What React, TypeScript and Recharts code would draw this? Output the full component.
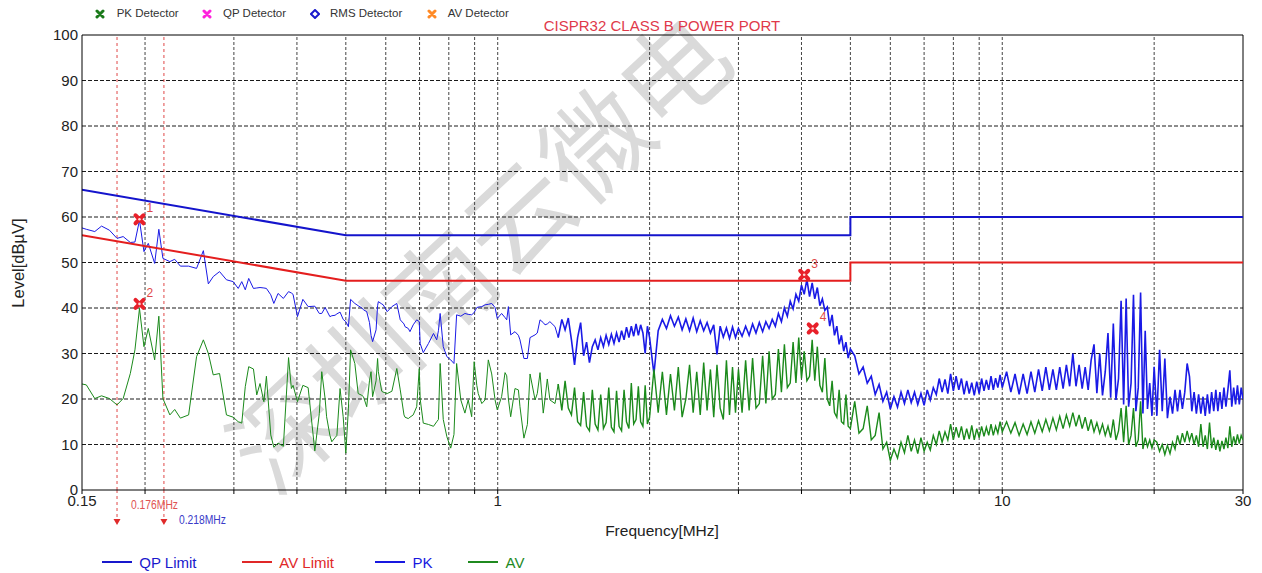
import {
  ComposedChart, Line, XAxis, YAxis, ReferenceLine, ReferenceDot,
} from "recharts";

const FONT = "Arial, 'Liberation Sans', Helvetica, sans-serif";
const CJK = "'Noto Sans CJK SC', 'Noto Sans CJK TC', sans-serif";

const W = 1262;
const H = 573;

// scan frequencies [MHz]
const FREQ = [
  0.150, 0.153, 0.159, 0.164, 0.170, 0.176, 0.181, 0.187, 0.191, 0.195,
  0.199, 0.203, 0.209, 0.213, 0.217, 0.224, 0.229, 0.235, 0.244, 0.253,
  0.261, 0.267, 0.273, 0.281, 0.290, 0.299, 0.306, 0.311, 0.316, 0.321,
  0.328, 0.333, 0.338, 0.344, 0.348, 0.355, 0.360, 0.367, 0.376, 0.385,
  0.390, 0.393, 0.401, 0.411, 0.421, 0.434, 0.443, 0.448, 0.455, 0.458,
  0.465, 0.469, 0.476, 0.480, 0.487, 0.494, 0.500, 0.506, 0.511, 0.521,
  0.529, 0.538, 0.542, 0.550, 0.557, 0.561, 0.565, 0.574, 0.578, 0.580,
  0.589, 0.593, 0.604, 0.617, 0.631, 0.641, 0.652, 0.655, 0.665, 0.670,
  0.680, 0.691, 0.699, 0.702, 0.712, 0.729, 0.746, 0.757, 0.763, 0.769,
  0.780, 0.793, 0.807, 0.819, 0.829, 0.845, 0.861, 0.874, 0.888, 0.898,
  0.909, 0.915, 0.930, 0.944, 0.958, 0.973, 0.988, 0.998, 1.018, 1.034,
  1.042, 1.050, 1.061, 1.082, 1.099, 1.107, 1.127, 1.145, 1.159, 1.186,
  1.198, 1.213, 1.231, 1.241, 1.254, 1.269, 1.299, 1.318,
  // 1.34 - 2.00
  1.34, 1.36, 1.38, 1.40, 1.42, 1.44, 1.46, 1.48, 1.50, 1.52,
  1.54, 1.56, 1.58, 1.60, 1.62, 1.64, 1.66, 1.68, 1.70, 1.72,
  1.74, 1.76, 1.78, 1.80, 1.82, 1.84, 1.86, 1.88, 1.90, 1.92,
  1.94, 1.96, 1.98, 2.00,
  // 2.04 - 3.00
  2.04, 2.08, 2.12, 2.16, 2.20, 2.24, 2.28, 2.32, 2.36, 2.40,
  2.44, 2.48, 2.52, 2.56, 2.60, 2.64, 2.68, 2.72, 2.76, 2.80,
  2.84, 2.88, 2.92, 2.96, 3.00,
  // 3.05 - 5.00
  3.05, 3.10, 3.15, 3.20, 3.25, 3.30, 3.35, 3.40, 3.45, 3.50,
  3.55, 3.60, 3.65, 3.70, 3.75, 3.80, 3.85, 3.90, 3.95, 4.00,
  4.05, 4.10, 4.15, 4.20, 4.25, 4.30, 4.35, 4.40, 4.45, 4.50,
  4.55, 4.60, 4.65, 4.70, 4.75, 4.80, 4.85, 4.90, 4.95, 5.00,
  // 5.1 - 10
  5.1, 5.2, 5.3, 5.4, 5.5, 5.6, 5.7, 5.8, 5.9, 6.0,
  6.1, 6.2, 6.3, 6.4, 6.5, 6.6, 6.7, 6.8, 6.9, 7.0,
  7.1, 7.2, 7.3, 7.4, 7.5, 7.6, 7.7, 7.8, 7.9, 8.0,
  8.1, 8.2, 8.3, 8.4, 8.5, 8.6, 8.7, 8.8, 8.9, 9.0,
  9.1, 9.2, 9.3, 9.4, 9.5, 9.6, 9.7, 9.8, 9.9, 10.0,
  // 10.2 - 20
  10.2, 10.4, 10.6, 10.8, 11.0, 11.2, 11.4, 11.6, 11.8, 12.0,
  12.2, 12.4, 12.6, 12.8, 13.0, 13.2, 13.4, 13.6, 13.8, 14.0,
  14.2, 14.4, 14.6, 14.8, 15.0, 15.2, 15.4, 15.6, 15.8, 16.0,
  16.2, 16.4, 16.6, 16.8, 17.0, 17.2, 17.4, 17.6, 17.8, 18.0,
  18.2, 18.4, 18.6, 18.8, 19.0, 19.2, 19.4, 19.6, 19.8, 20.0,
  // 20.25 - 30
  20.25, 20.5, 20.75, 21.0, 21.25, 21.5, 21.75, 22.0, 22.25, 22.5,
  22.75, 23.0, 23.25, 23.5, 23.75, 24.0, 24.25, 24.5, 24.75, 25.0,
  25.25, 25.5, 25.75, 26.0, 26.25, 26.5, 26.75, 27.0, 27.25, 27.5,
  27.75, 28.0, 28.25, 28.5, 28.75, 29.0, 29.25, 29.5, 29.75, 30.0,
];

// peak detector trace [dBµV]
const PK = [
  57.6, 57.3, 56.8, 58.0, 57.1, 55.3, 55.7, 54.4, 54.5, 59.3,
  52.4, 54.2, 49.8, 57.3, 50.9, 50.2, 50.7, 49.2, 49.2, 48.7,
  52.6, 45.3, 46.9, 48.0, 46.2, 45.8, 44.3, 45.8, 44.0, 46.5,
  44.3, 44.4, 44.5, 44.4, 44.3, 42.9, 41.0, 43.2, 42.1, 43.6,
  43.3, 43.0, 38.1, 41.9, 40.3, 40.4, 38.8, 38.8, 40.1, 39.5,
  38.1, 38.3, 38.4, 38.7, 39.1, 37.5, 37.0, 35.9, 41.9, 41.0,
  40.5, 40.0, 39.6, 39.2, 36.8, 34.0, 32.6, 35.2, 40.5, 41.4,
  40.9, 40.7, 39.2, 40.3, 41.0, 37.4, 36.5, 35.9, 35.5, 34.8,
  36.3, 37.4, 37.0, 32.2, 30.2, 32.2, 34.4, 33.0, 35.0, 38.8,
  31.5, 29.3, 28.6, 27.8, 38.5, 38.2, 38.8, 38.6, 38.5, 39.0,
  40.1, 40.2, 40.3, 40.7, 40.8, 41.0, 40.1, 37.7, 38.8, 37.9,
  37.4, 40.3, 34.1, 34.8, 34.0, 33.0, 28.9, 28.9, 33.5, 34.1,
  34.5, 37.4, 36.8, 36.3, 36.5, 37.0, 35.9, 33.5,
  37.5, 35.2, 37.8, 33.0, 27.5, 33.5, 36.8, 29.5, 32.5, 28.0,
  31.5, 33.0, 30.8, 33.5, 31.5, 34.0, 32.0, 34.2, 32.2, 34.5,
  32.5, 35.0, 33.0, 35.8, 33.5, 36.0, 33.8, 36.5, 34.0, 36.3,
  34.5, 30.0, 36.0, 33.5,
  25.5, 35.0, 37.5, 35.5, 38.3, 36.0, 38.0, 35.2, 37.6, 35.0,
  37.8, 34.8, 37.2, 35.0, 36.8, 34.5, 36.3, 29.8, 36.0, 33.6,
  35.6, 33.3, 35.8, 33.5, 35.5,
  33.8, 36.0, 34.0, 36.5, 34.5, 36.8, 34.8, 37.0, 35.5, 37.5,
  36.0, 38.8, 37.0, 40.0, 38.2, 41.5, 39.8, 43.0, 41.5, 45.0,
  43.0, 46.3, 42.5, 45.5, 42.0, 44.5, 40.5, 42.0, 39.5, 40.2,
  36.0, 38.5, 34.0, 36.0, 32.0, 34.0, 30.5, 32.5, 29.0, 31.0,
  29.5, 25.5, 27.0, 23.5, 25.0, 21.0, 23.2, 19.5, 21.5, 17.8,
  20.5, 18.2, 21.5, 19.0, 22.0, 19.2, 21.5, 18.8, 21.2, 18.6,
  22.0, 19.8, 22.5, 21.0, 24.5, 21.5, 24.3, 21.2, 25.5, 21.8,
  25.0, 22.0, 24.5, 21.0, 24.0, 21.2, 23.6, 20.8, 23.8, 21.2,
  24.5, 21.8, 24.2, 22.0, 25.0, 22.0, 24.6, 22.5, 25.3, 22.5,
  26.0, 21.5, 25.5, 21.0, 25.5, 21.2, 26.0, 21.5, 26.5, 21.8,
  27.0, 22.0, 26.5, 22.0, 27.0, 22.3, 27.5, 22.8, 30.0, 22.8,
  27.5, 22.3, 27.0, 22.0, 28.5, 32.0, 21.3, 30.0, 20.8, 26.0,
  34.5, 20.3, 36.6, 19.8, 24.5, 41.6, 18.8, 42.1, 18.3, 23.5,
  42.9, 17.3, 22.5, 43.4, 16.8, 35.0, 17.8, 23.5, 16.3, 27.1,
  16.3, 30.8, 17.3, 28.9, 15.8, 20.5, 16.8, 22.0, 17.3, 22.0,
  17.8, 21.5, 27.8, 24.9, 17.3, 21.5, 16.8, 21.0, 16.8, 20.5,
  16.3, 21.0, 16.8, 21.5, 17.3, 22.0, 17.3, 21.5, 17.8, 22.5,
  18.3, 22.0, 26.3, 18.3, 22.5, 18.8, 23.0, 18.8, 22.5, 20.0,
];

// average detector trace [dBµV]
const AV = [
  23.3, 23.1, 20.1, 20.7, 20.1, 18.7, 20.1, 25.6, 30.8, 39.9,
  31.5, 35.5, 28.6, 38.2, 20.1, 16.5, 17.7, 15.8, 16.5, 29.3,
  33.0, 30.0, 25.3, 25.6, 16.5, 16.0, 15.0, 14.7, 22.7, 27.1,
  26.6, 20.9, 23.4, 19.4, 25.0, 12.1, 9.4, 10.3, 9.6, 29.1,
  22.3, 23.0, 19.4, 23.0, 22.5, 8.6, 16.8, 26.0, 20.0, 16.1,
  12.0, 10.6, 11.5, 12.0, 22.3, 16.1, 8.1, 18.0, 30.8, 27.8,
  21.2, 20.8, 20.5, 18.3, 24.0, 26.0, 20.5, 24.0, 28.9, 26.0,
  21.7, 21.5, 21.2, 21.7, 26.7, 22.0, 16.5, 16.0, 15.7, 16.0,
  16.5, 18.3, 26.7, 20.0, 14.7, 14.4, 14.0, 15.0, 15.5, 27.8,
  15.5, 11.7, 9.2, 12.2, 27.8, 19.8, 16.9, 19.8, 16.1, 28.2,
  23.0, 21.2, 19.0, 19.8, 28.6, 25.5, 19.8, 17.6, 20.5, 25.8,
  25.1, 20.0, 16.1, 22.3, 22.0, 18.3, 11.4, 14.4, 25.5, 19.8,
  21.2, 25.8, 16.9, 20.0, 24.4, 19.8, 19.0, 23.3,
  17.5, 24.0, 18.0, 16.5, 22.5, 15.0, 14.2, 21.5, 14.0, 13.0,
  22.0, 14.5, 13.2, 21.0, 13.5, 14.8, 22.5, 13.8, 12.8, 21.8,
  14.0, 13.0, 22.0, 15.0, 13.5, 23.5, 14.5, 15.5, 22.8, 15.0,
  14.0, 23.0, 14.5, 16.0,
  26.5, 17.0, 26.0, 16.5, 25.5, 17.5, 27.0, 16.0, 20.0, 27.5,
  17.0, 26.0, 16.5, 28.0, 17.5, 26.5, 16.0, 27.5, 18.0, 15.5,
  28.5, 16.5, 27.0, 17.0, 26.5,
  17.0, 28.5, 17.5, 29.0, 18.0, 19.0, 29.5, 19.0, 30.5, 20.0,
  21.0, 31.0, 21.5, 32.0, 22.5, 23.5, 32.5, 23.5, 33.5, 24.5,
  30.5, 24.0, 25.0, 33.0, 24.0, 31.5, 23.0, 21.5, 29.0, 20.0,
  18.5, 24.0, 17.0, 16.0, 22.0, 15.0, 14.5, 21.0, 14.0, 13.5,
  19.5, 12.5, 13.5, 18.5, 11.0, 12.0, 17.0, 9.0, 10.5, 6.5,
  9.0, 7.0, 10.5, 8.2, 12.0, 8.5, 11.0, 8.0, 11.5, 8.5,
  10.5, 8.8, 12.0, 10.0, 13.0, 10.5, 12.8, 11.0, 14.5, 11.0,
  13.8, 11.5, 14.0, 11.0, 13.5, 11.2, 14.2, 11.0, 13.5, 11.5,
  14.0, 11.8, 13.8, 12.0, 14.5, 12.0, 14.0, 12.5, 15.0, 12.8,
  15.0, 12.5, 14.8, 12.0, 14.5, 12.2, 15.0, 12.5, 15.2, 12.8,
  15.5, 13.0, 15.8, 13.2, 16.2, 13.5, 16.5, 14.0, 17.0, 14.0,
  16.5, 13.5, 16.0, 13.0, 15.5, 12.8, 14.8, 12.5, 14.5, 12.0,
  14.0, 11.5, 15.5, 11.0, 13.0, 18.0, 10.5, 18.5, 10.0, 12.0,
  18.0, 9.5, 11.0, 19.5, 9.0, 11.5, 9.5, 11.0, 9.2, 11.0,
  10.5, 8.5, 10.0, 7.8, 9.8, 8.0, 10.5, 9.0, 12.0, 10.0,
  12.5, 10.5, 13.0, 10.8, 12.5, 10.0, 12.0, 9.5, 14.5, 9.5,
  12.0, 9.0, 14.8, 9.2, 11.5, 8.8, 11.0, 8.5, 10.8, 9.0,
  11.5, 9.2, 14.0, 9.5, 11.8, 10.0, 12.2, 10.2, 12.0, 11.0,
];

// index where the sweep gets dense (1.318 MHz)
const DENSE_FROM = 127;

// CISPR 32 class B limits, mains port
const LIMIT_F = [0.15, 0.5, 5, 5, 30];
const QP_LIMIT = [66, 56, 56, 60, 60];
const AV_LIMIT = [56, 46, 46, 50, 50];

const GRID_F = [0.2, 0.3, 0.4, 0.5, 0.6, 0.7, 0.8, 0.9, 1, 2, 3, 4, 5, 6, 7, 8, 9, 10, 20];
const X_TICKS = [0.15, ...GRID_F, 30];
const X_LABELS = [0.15, 1, 10, 30];
const Y_TICKS = [0, 10, 20, 30, 40, 50, 60, 70, 80, 90, 100];
const Y_GRID = [10, 20, 30, 40, 50, 60, 70, 80, 90];

// final measurement points
const MARK_ID = ["1", "2", "3", "4"];
const MARK_F = [0.195, 0.195, 4.05, 4.21];
const MARK_V = [59.5, 40.9, 47.3, 35.5];

// frequency cursors
const CURSOR_F = [0.176, 0.218];
const CURSOR_TEXT = ["0.176MHz", "0.218MHz"];
const CURSOR_COLOR = ["#e05252", "#3a3ac8"];
const CURSOR_DY = [19, 34];
const CURSOR_DX = [14, 15];

const n = Math.min(FREQ.length, PK.length, AV.length);
const traceRows = FREQ.slice(0, n).map((f, i) => ({ f, pk: PK[i], av: AV[i] }));
const sparseRows = traceRows.slice(0, DENSE_FROM + 1);
const denseRows = traceRows.slice(DENSE_FROM);
const qpRows = LIMIT_F.map((f, i) => ({ f, v: QP_LIMIT[i] }));
const avRows = LIMIT_F.map((f, i) => ({ f, v: AV_LIMIT[i] }));

const TOP_LEGEND = [
  { label: "PK Detector", color: "#1a7a1a", icon: "x", ix: 100, tx: 116.7 },
  { label: "QP Detector", color: "#ff22dd", icon: "x", ix: 207, tx: 223 },
  { label: "RMS Detector", color: "#1a1acc", icon: "d", ix: 315, tx: 330 },
  { label: "AV Detector", color: "#ff8a26", icon: "x", ix: 431.7, tx: 447.7 },
];

const BOTTOM_LEGEND = [
  { label: "QP Limit", color: "#1818cc", x: 101.7 },
  { label: "AV Limit", color: "#e02828", x: 241.7 },
  { label: "PK", color: "#1818e0", x: 375 },
  { label: "AV", color: "#1f8a1f", x: 468 },
];

const PK_COLOR = "#1a1ae6";
const AV_COLOR = "#1b8a1b";

// red cross used for the measurement points
const markShape = (id: string) => (props: any) => {
  const { cx, cy } = props;
  return (
    <g>
      <path
        d={`M${cx - 4},${cy - 4}L${cx + 4},${cy + 4}M${cx + 4},${cy - 4}L${cx - 4},${cy + 4}`}
        stroke="#e8202a" strokeWidth={4} strokeLinecap="round"
      />
      <circle cx={cx} cy={cy} r={1.3} fill="#ffd6d6" />
      <text x={cx + 7} y={cy - 7} fill="#e04848" fontSize={12} fontFamily={FONT}>{id}</text>
    </g>
  );
};

// cursor continues below the plot, ends in an arrow head, with its readout
const cursorLabel = (i: number) => (props: any) => {
  const vb = props.viewBox || {};
  const x = vb.x;
  const bottom = vb.y + vb.height;
  return (
    <g>
      <line x1={x} x2={x} y1={bottom} y2={bottom + 30} stroke="#e04848" strokeDasharray="3 3" />
      <path d={`M${x - 3.5},${bottom + 29}L${x + 3.5},${bottom + 29}L${x},${bottom + 35}Z`} fill="#e02a2a" />
      <text
        x={x + CURSOR_DX[i]} y={bottom + CURSOR_DY[i]} fill={CURSOR_COLOR[i]} fontSize={12}
        fontFamily={FONT} textLength={47} lengthAdjust="spacingAndGlyphs"
      >
        {CURSOR_TEXT[i]}
      </text>
    </g>
  );
};

function LegendIcon({ kind, color }: { kind: string; color: string }) {
  if (kind === "d") {
    return (
      <svg width={10} height={10} style={{ display: "block" }}>
        <path d="M5,1L9,5L5,9L1,5Z" fill="none" stroke={color} strokeWidth={2} />
      </svg>
    );
  }
  return (
    <svg width={10} height={10} style={{ display: "block" }}>
      <path d="M2,2L8,8M8,2L2,8" stroke={color} strokeWidth={3} strokeLinecap="round" />
    </svg>
  );
}

const traceLine = (rows: any[], key: string, color: string, width: number) => (
  <Line
    data={rows} dataKey={key} type="linear" stroke={color} strokeWidth={width}
    dot={false} activeDot={false} isAnimationActive={false}
  />
);

export default function App() {
  return (
    <div
      style={{
        position: "relative", width: W, height: H, fontFamily: FONT, background: "#fff",
        overflow: "hidden",
      }}
    >
      <style>{"body{margin:0}"}</style>

      {/* watermark */}
      <div
        style={{
          position: "absolute", left: 475, top: 248, transform: "translate(-50%, -50%) rotate(-43deg)",
          fontFamily: CJK, fontSize: 106, color: "#dadada", whiteSpace: "nowrap", lineHeight: 1,
          zIndex: 0,
        }}
      >
        深圳南云微电
      </div>

      <div style={{ position: "absolute", left: 0, top: 0, zIndex: 1 }}>
        <ComposedChart width={W} height={H} margin={{ top: 35, right: 19, bottom: 53, left: 22 }}>
          <XAxis
            dataKey="f" type="number" scale="log" domain={[0.15, 30]} allowDataOverflow
            ticks={X_TICKS} interval={0} height={30}
            tickFormatter={(v: number) => (X_LABELS.includes(v) ? String(v) : "")}
            tick={{ fontSize: 15, fill: "#222", fontFamily: FONT }}
            tickSize={4} tickMargin={1}
            axisLine={{ stroke: "#000" }} tickLine={{ stroke: "#000" }}
          />
          <YAxis
            type="number" domain={[0, 100]} ticks={Y_TICKS} interval={0} width={60}
            tick={{ fontSize: 15, fill: "#222", fontFamily: FONT }}
            tickSize={0} tickMargin={4} tickLine={false}
            axisLine={{ stroke: "#000" }}
          />

          {Y_GRID.map(v => (
            <ReferenceLine key={`h${v}`} y={v} stroke="#1a1a1a" strokeDasharray="4 2" />
          ))}
          {GRID_F.map(f => (
            <ReferenceLine key={`v${f}`} x={f} stroke="#444" strokeDasharray="3 2" />
          ))}
          <ReferenceLine y={100} stroke="#000" />
          <ReferenceLine x={30} stroke="#000" />

          {CURSOR_F.map((f, i) => (
            <ReferenceLine
              key={`c${f}`} x={f} stroke="#e04848" strokeDasharray="3 3" label={cursorLabel(i)}
            />
          ))}

          {traceLine(sparseRows, "pk", PK_COLOR, 1)}
          {traceLine(denseRows, "pk", PK_COLOR, 1.6)}
          {traceLine(sparseRows, "av", AV_COLOR, 1)}
          {traceLine(denseRows, "av", AV_COLOR, 1.4)}

          <Line
            data={qpRows} dataKey="v" type="linear" stroke="#1414cc" strokeWidth={2}
            dot={false} activeDot={false} isAnimationActive={false}
          />
          <Line
            data={avRows} dataKey="v" type="linear" stroke="#e41e1e" strokeWidth={2}
            dot={false} activeDot={false} isAnimationActive={false}
          />

          {MARK_ID.map((id, i) => (
            <ReferenceDot key={`m${id}`} x={MARK_F[i]} y={MARK_V[i]} r={5} shape={markShape(id)} />
          ))}
        </ComposedChart>
      </div>

      {/* detector legend */}
      {TOP_LEGEND.map(item => (
        <div key={item.label}>
          <div style={{ position: "absolute", left: item.ix - 5, top: 8.5, zIndex: 2 }}>
            <LegendIcon kind={item.icon} color={item.color} />
          </div>
          <div
            style={{
              position: "absolute", left: item.tx, top: 6, fontSize: 11.5, lineHeight: "15px",
              color: "#333", whiteSpace: "nowrap", zIndex: 2,
            }}
          >
            {item.label}
          </div>
        </div>
      ))}

      {/* title */}
      <div
        style={{
          position: "absolute", left: 662, top: 16.5, transform: "translateX(-50%)", fontSize: 15,
          lineHeight: "17px", color: "#e0394a", whiteSpace: "nowrap", zIndex: 2,
        }}
      >
        CISPR32 CLASS B POWER PORT
      </div>

      {/* axis titles */}
      <div
        style={{
          position: "absolute", left: 18, top: 263, transform: "translate(-50%, -50%) rotate(-90deg)",
          fontSize: 16.5, lineHeight: "19px", color: "#222", whiteSpace: "nowrap", zIndex: 2,
        }}
      >
        Level[dBµV]
      </div>
      <div
        style={{
          position: "absolute", left: 662, top: 522, transform: "translateX(-50%)", fontSize: 15.5,
          lineHeight: "18px", color: "#222", whiteSpace: "nowrap", zIndex: 2,
        }}
      >
        Frequency[MHz]
      </div>

      {/* trace legend */}
      {BOTTOM_LEGEND.map(item => (
        <div key={item.label}>
          <div
            style={{
              position: "absolute", left: item.x, top: 561, width: 30, height: 2,
              background: item.color, zIndex: 2,
            }}
          />
          <div
            style={{
              position: "absolute", left: item.x + 37.6, top: 553.5, fontSize: 15, lineHeight: "17px",
              color: item.color, whiteSpace: "nowrap", zIndex: 2,
            }}
          >
            {item.label}
          </div>
        </div>
      ))}
    </div>
  );
}
